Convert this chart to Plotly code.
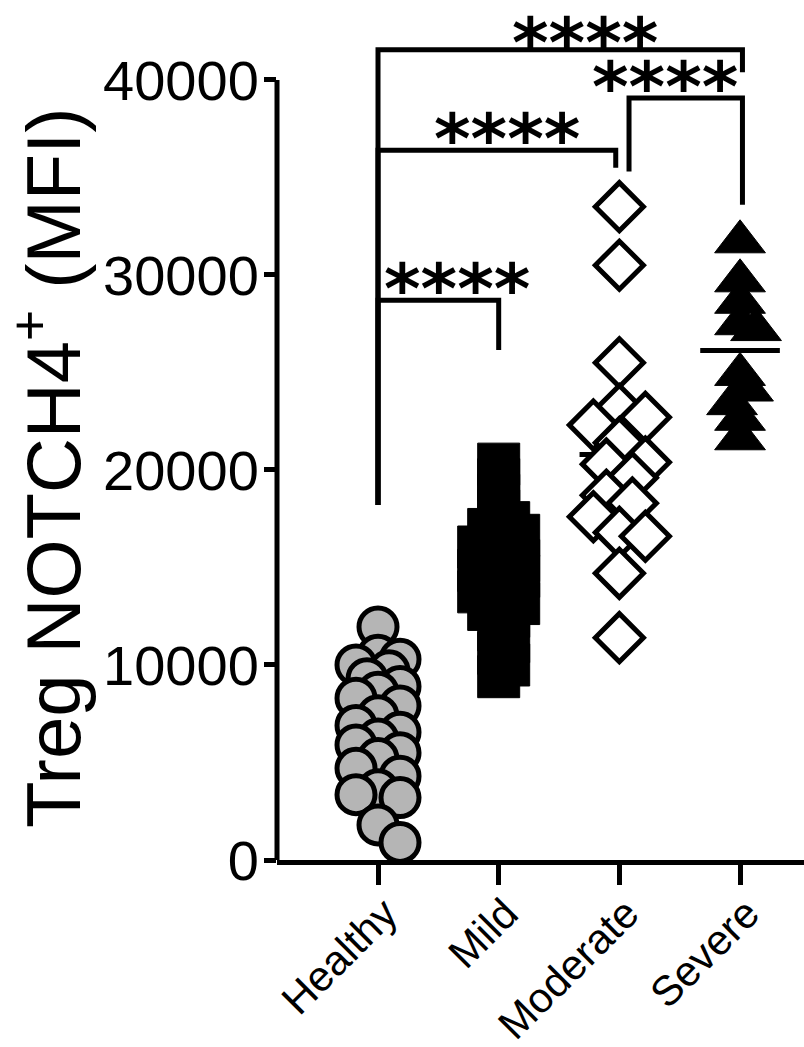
import math
import plotly.graph_objects as go

# ---- data -------------------------------------------------------------
groups = ["Healthy", "Mild", "Moderate", "Severe"]

healthy = [11950, 10500, 10300, 10000, 9700, 9300, 8900, 8600, 8300, 7900,
           7400, 6900, 6550, 6200, 5900, 5500, 5200, 4700, 4300, 3600,
           3350, 3200, 1800, 900]
mild = [20300, 19500, 18700, 17900, 17300, 16950, 16650, 16400, 16050, 15850,
        15550, 15350, 15050, 14850, 14550, 14350, 14000, 13750, 13500, 13150,
        12850, 12500, 11800, 11200, 10600, 10000, 9400]
moderate = [33500, 30500, 25500, 23100, 22700, 22300, 21400, 20400, 20300,
            19600, 18700, 18300, 17600, 16800, 16600, 14700, 11400]
severe = [31700, 29700, 28600, 27500, 27200, 24900, 24100, 23400, 22600, 21600]

y_ticks = [0, 10000, 20000, 30000, 40000]

# significance brackets: (left x, right x, bar height, left leg end, right leg end, label, label x)
brackets = [
    (0, 1, 28700, 18200, 26150, "****", 0.655),
    (0, 1.97, 36400, 18200, 35500, "****", 1.07),
    (2.08, 3.02, 39080, 35300, 33600, "****", 2.38),
    (0, 3.02, 41550, 18200, 40400, "****", 1.715),
]

# ---- geometry ---------------------------------------------------------
W, H = 804, 1047
M_L, M_R, M_T, M_B = 277, 0, 0, 187
X_RANGE = [-0.837, 3.53]
Y_RANGE = [0, 44100]
plot_w = W - M_L - M_R
plot_h = H - M_T - M_B
PX_PER_CAT = plot_w / (X_RANGE[1] - X_RANGE[0])
PX_PER_UNIT = plot_h / (Y_RANGE[1] - Y_RANGE[0])


def swarm_offsets(vals, max_shift_px, min_gap_px):
    """Greedy beeswarm: spread points sideways when they crowd each other."""
    order = sorted(range(len(vals)), key=lambda i: -vals[i])
    cands = [0, max_shift_px / 2, -max_shift_px / 2, max_shift_px, -max_shift_px]
    placed, offs = [], [0.0] * len(vals)
    for i in order:
        y = vals[i] * PX_PER_UNIT
        best, best_d = 0, -1
        for c in cands:
            d = min((math.hypot(c - px, y - py) for px, py in placed), default=1e9)
            if d >= min_gap_px:
                best = c
                break
            if d > best_d:
                best_d, best = d, c
        placed.append((best, y))
        offs[i] = best / PX_PER_CAT
    return offs


styles = [
    dict(vals=healthy, symbol="circle", size=38, fill="#b5b5b5", lw=5, shift=22, gap=22),
    dict(vals=mild, symbol="square", size=42, fill="#000000", lw=1, shift=20, gap=14),
    dict(vals=moderate, symbol="diamond", size=37, fill="#ffffff", lw=5, shift=26, gap=24),
    dict(vals=severe, symbol="triangle-up", size=44, fill="#000000", lw=1, shift=16, gap=16),
]

fig = go.Figure()

# mean lines (drawn beneath the points)
mx, my = [], []
for i, st in enumerate(styles):
    m = sum(st["vals"]) / len(st["vals"])
    mx += [i - 0.33, i + 0.33, None]
    my += [m, m, None]
fig.add_trace(go.Scatter(x=mx, y=my, mode="lines", line=dict(color="black", width=5),
                         hoverinfo="skip", showlegend=False, cliponaxis=False))

for i, st in enumerate(styles):
    offs = swarm_offsets(st["vals"], st["shift"], st["gap"])
    fig.add_trace(go.Scatter(
        x=[i + o for o in offs], y=st["vals"], mode="markers", name=groups[i],
        marker=dict(symbol=st["symbol"], size=st["size"], color=st["fill"],
                    line=dict(color="black", width=st["lw"])),
        cliponaxis=False, showlegend=False))

# brackets and stars
top_bar = max(b[2] for b in brackets)
for a, b, yb, ya_end, yb_end, lab, lx in brackets:
    fig.add_shape(type="path",
                  path=f"M {a},{ya_end} L {a},{yb} L {b},{yb} L {b},{yb_end}",
                  xref="x", yref="y", line=dict(color="black", width=5))
    fig.add_annotation(x=lx, y=yb, text=lab, xref="x", yref="y", showarrow=False,
                       yanchor="bottom", yshift=-36 if yb == top_bar else -32,
                       font=dict(family="DejaVu Sans", size=70, color="black", weight="bold"))

# y axis line stops at the top tick
fig.add_shape(type="line", xref="paper", yref="y", x0=0, x1=0, y0=0, y1=40000,
              line=dict(color="black", width=5))

fig.add_annotation(text="Treg NOTCH4<sup>+</sup> (MFI)", textangle=-90,
                   xref="paper", yref="paper", x=(48 - M_L) / plot_w,
                   y=(860 - 468) / plot_h, xanchor="center", yanchor="middle",
                   showarrow=False, font=dict(family="Liberation Sans", size=76, color="black"))

fig.update_layout(
    width=W, height=H, margin=dict(l=M_L, r=M_R, t=M_T, b=M_B),
    paper_bgcolor="white", plot_bgcolor="white",
    xaxis=dict(range=X_RANGE, tickvals=[0, 1, 2, 3], ticktext=groups, tickangle=-45,
               showline=True, linecolor="black", linewidth=5, ticks="outside",
               ticklen=20, tickwidth=5, tickcolor="black", showgrid=False, zeroline=False,
               automargin=False, ticklabelstandoff=-13, ticklabelshift=7,
               tickfont=dict(family="Liberation Sans", size=42, color="black")),
    yaxis=dict(range=Y_RANGE, tickvals=y_ticks, ticktext=[str(v) for v in y_ticks],
               showline=False, ticks="outside", ticklen=12, tickwidth=5, tickcolor="black",
               showgrid=False, zeroline=False, automargin=False, ticklabelstandoff=-6,
               tickfont=dict(family="Liberation Sans", size=56, color="black")),
)

fig.write_html("out.html")
